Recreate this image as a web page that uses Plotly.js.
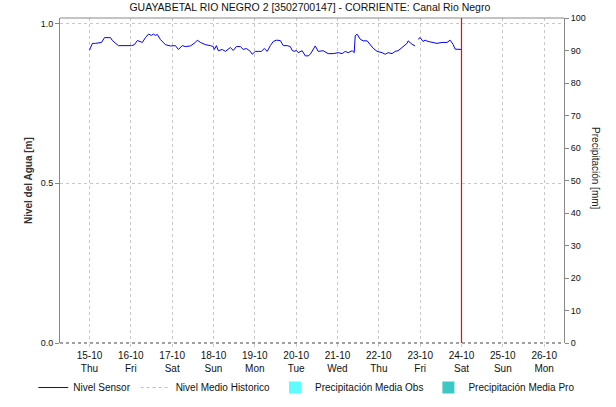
<!DOCTYPE html>
<html>
<head>
<meta charset="utf-8">
<script src="https://cdn.plot.ly/plotly-3.0.1.min.js"></script>
<style>html,body{margin:0;padding:0;background:#fff}#chart{width:616px;height:407px}</style>
</head>
<body>
<div id="chart"></div>
<script>
// Hours elapsed since 15-10-2020 00:00 for each sensor reading
const sensorHours = [0,1.2,1.7,3.5,7,8.7,12.2,13.3,15.1,16.8,24.4,26.1,27.8,29.6,30.7,32.5,34.2,36,37.1,38.3,39.4,41.2,44.1,47,49.9,51.6,53.9,55.7,58.6,61.5,62.6,64.4,67.3,70.2,71.9,72.5,73.7,74.8,77.1,78.9,80.6,81.8,83.5,85.3,87.6,89.3,91.1,93.4,94.5,96.3,98,99.8,101.5,103.2,105,106.7,108.5,110.8,112.5,114.8,116.6,117.7,118.9,120.1,121.2,123.5,125.3,127,128.2,131.1,132.8,135.7,138.6,141.5,144.4,146.7,148.5,150.2,152.5,153.7,154.3,155.4,157.2,158.9,161.2,163,164.7,167,169.9,171.7,173.4,175.7,177.5,179.2,181.5,182.1,184.4,185,187.3,189.1,190,190.8,192,193.7,194.9,196.6,198.9,201.8,204.7,207.6,209.4,211.1,212.3,214,216];
const sensorLevel = [0.917,0.934,0.938,0.938,0.941,0.956,0.956,0.947,0.938,0.931,0.931,0.934,0.947,0.944,0.941,0.956,0.967,0.963,0.967,0.963,0.966,0.95,0.934,0.930,0.931,0.919,0.931,0.928,0.930,0.941,0.948,0.941,0.934,0.931,0.928,0.919,0.931,0.915,0.919,0.913,0.919,0.925,0.916,0.928,0.928,0.919,0.922,0.913,0.904,0.913,0.913,0.913,0.922,0.913,0.931,0.944,0.948,0.947,0.931,0.931,0.928,0.916,0.913,0.916,0.909,0.915,0.899,0.899,0.904,0.930,0.913,0.915,0.906,0.906,0.909,0.906,0.913,0.909,0.915,0.909,0.962,0.967,0.951,0.946,0.946,0.935,0.923,0.913,0.909,0.904,0.909,0.906,0.913,0.915,0.925,0.930,0.938,0.946,0.935,0.930,null,0.951,0.956,0.944,0.948,0.944,0.941,0.938,0.941,0.941,0.948,0.935,0.920,0.920,0.919];
// Historic mean level: no visible values in the reference
const histDates = ['2020-10-15'];
const histLevel = [null];
// Precipitation (mm): no rain visible in the reference
const precipObsDates = ['2020-10-15','2020-10-16','2020-10-17','2020-10-18','2020-10-19','2020-10-20','2020-10-21','2020-10-22','2020-10-23'];
const precipObs = [0,0,0,0,0,0,0,0,0];
const precipProDates = ['2020-10-24','2020-10-25','2020-10-26'];
const precipPro = [0,0,0];
const startDate = '2020-10-15T00:00:00Z';
const nowDate = '2020-10-24 00:00';
const xRange = ['2020-10-14 06:53', '2020-10-26 11:31'];
const titleText = 'GUAYABETAL RIO NEGRO 2 [3502700147] - CORRIENTE: Canal Rio Negro';

function toStamp(h) {
  const d = new Date(Date.parse(startDate) + h * 3600e3);
  const p = n => String(n).padStart(2, '0');
  return d.getUTCFullYear() + '-' + p(d.getUTCMonth() + 1) + '-' + p(d.getUTCDate()) + ' ' + p(d.getUTCHours()) + ':' + p(d.getUTCMinutes());
}
const sensorDates = sensorHours.map(toStamp);

const FONT = 'Liberation Sans, Arial, sans-serif';
const traces = [
  {x: sensorDates, y: sensorLevel, type: 'scatter', mode: 'lines', name: 'Nivel Sensor',
   line: {color: '#0000ff', width: 1}, connectgaps: false},
  {x: histDates, y: histLevel, type: 'scatter', mode: 'lines', name: 'Nivel Medio Historico',
   line: {color: '#c0c0c0', width: 1, dash: 'dot'}},
  {x: precipObsDates, y: precipObs, type: 'bar', name: 'Precipitación Media Obs', yaxis: 'y2',
   marker: {color: '#5cfcff', line: {width: 0}}},
  {x: precipProDates, y: precipPro, type: 'bar', name: 'Precipitación Media Pro', yaxis: 'y2',
   marker: {color: '#3cc8c4', line: {width: 0}}}
];

const layout = {
  width: 616, height: 407,
  margin: {l: 60, r: 52, t: 18, b: 64, autoexpand: false},
  paper_bgcolor: '#fff', plot_bgcolor: '#fff',
  font: {family: FONT, size: 9, color: '#111'},
  title: {text: titleText, font: {family: FONT, size: 10.5, color: '#111'}, x: 0.503, xanchor: 'center', y: 0.981, yanchor: 'middle'},
  showlegend: true,
  legend: {orientation: 'h', x: -0.053, xanchor: 'left', y: -0.137, yanchor: 'middle',
           font: {family: FONT, size: 10, color: '#111'}, itemwidth: 30, tracegroupgap: 0, bgcolor: 'rgba(0,0,0,0)'},
  xaxis: {type: 'date', range: xRange, tick0: '2020-10-15', dtick: 86400000,
          tickformat: '%d-%m<br>%a', showgrid: true, gridcolor: '#c8c8c8', griddash: '3px,3px', gridwidth: 1,
          showline: false, zeroline: false, ticks: 'outside', ticklen: 3, tickcolor: '#ccc',
          tickfont: {family: FONT, size: 10, color: '#111'}, automargin: false},
  yaxis: {range: [0, 1.0175], tickvals: [0, 0.5, 1.0], ticktext: ['0.0', '0.5', '1.0'],
          showgrid: true, gridcolor: '#c8c8c8', griddash: '3px,3px', zeroline: false,
          showline: true, linecolor: '#888', linewidth: 1, ticks: 'outside', ticklen: 4, tickcolor: '#888',
          tickfont: {family: FONT, size: 9, color: '#111'}, automargin: false},
  yaxis2: {overlaying: 'y', side: 'right', range: [0, 100], dtick: 10, showgrid: false, zeroline: false,
           showline: true, linecolor: '#888', linewidth: 1, ticks: 'outside', ticklen: 4, tickcolor: '#888',
           tickfont: {family: FONT, size: 9, color: '#111'}, automargin: false},
  bargap: 0,
  shapes: [
    {type: 'line', xref: 'paper', yref: 'paper', x0: 0, x1: 1, y0: 1, y1: 1, line: {color: '#888', width: 1}},
    {type: 'line', xref: 'paper', yref: 'paper', x0: 0, x1: 1, y0: 0, y1: 0, line: {color: '#444', width: 1, dash: 'dot'}},
    {type: 'line', xref: 'x', yref: 'paper', x0: nowDate, x1: nowDate, y0: 0, y1: 1, layer: 'above',
     line: {color: 'rgb(255,0,0)', width: 1.2}}
  ],
  annotations: [
    {text: '<b>Nivel del Agua [m]</b>', xref: 'paper', yref: 'paper', x: -0.061, y: 0.499, xanchor: 'center', yanchor: 'middle',
     textangle: -90, showarrow: false, font: {family: FONT, size: 10, color: '#333'}},
    {text: 'Precipitación [mm]', xref: 'paper', yref: 'paper', x: 1.061, y: 0.539, xanchor: 'center', yanchor: 'middle',
     textangle: 90, showarrow: false, font: {family: FONT, size: 10, color: '#222'}}
  ]
};

Plotly.newPlot('chart', traces, layout, {displayModeBar: false, staticPlot: true});
</script>
</body>
</html>
